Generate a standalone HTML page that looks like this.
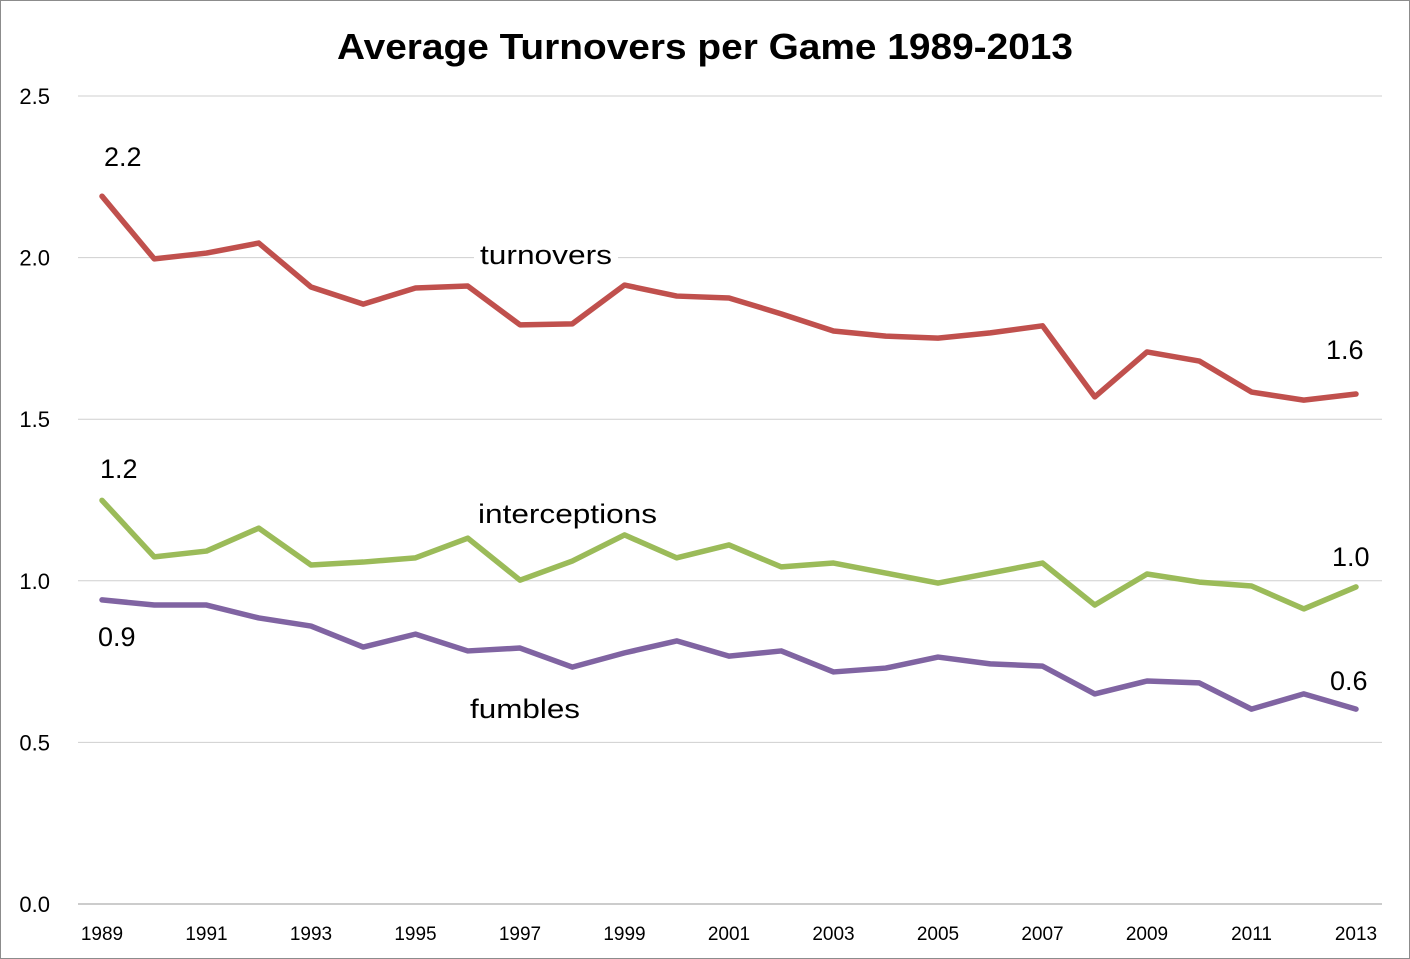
<!DOCTYPE html>
<html><head><meta charset="utf-8"><style>
html,body{margin:0;padding:0;background:#fff}
svg{display:block;font-family:"Liberation Sans","DejaVu Sans",sans-serif}
</style></head><body>
<svg id="chart" width="1410" height="959"></svg>
<script>
const years=[1989,1990,1991,1992,1993,1994,1995,1996,1997,1998,1999,2000,2001,2002,2003,2004,2005,2006,2007,2008,2009,2010,2011,2012,2013];
const turnovers=[2.19,1.996,2.014,2.045,1.909,1.856,1.906,1.912,1.792,1.795,1.915,1.881,1.875,1.826,1.773,1.757,1.751,1.767,1.789,1.569,1.708,1.680,1.584,1.559,1.578];
const interceptions=[1.249,1.074,1.092,1.163,1.049,1.058,1.071,1.132,1.002,1.061,1.142,1.071,1.111,1.043,1.055,1.024,0.993,1.024,1.055,0.925,1.021,0.996,0.984,0.913,0.981];
const fumbles=[0.941,0.925,0.925,0.885,0.860,0.795,0.835,0.783,0.792,0.733,0.777,0.814,0.767,0.783,0.718,0.730,0.764,0.743,0.736,0.650,0.690,0.684,0.603,0.650,0.603];
const yTicks=[0,0.5,1.0,1.5,2.0,2.5];
const xTickYears=[1989,1991,1993,1995,1997,1999,2001,2003,2005,2007,2009,2011,2013];

const NS="http://www.w3.org/2000/svg";
const svg=document.getElementById('chart');
const X=y=>102+(y-1989)*(1356-102)/24;
const Y=v=>904-v*(904-96)/2.5;
function mk(tag,attrs,parent){const e=document.createElementNS(NS,tag);for(const k in attrs)e.setAttribute(k,attrs[k]);(parent||svg).appendChild(e);return e;}

const border=mk('rect',{x:0.5,y:0.5,width:1409,height:958,fill:'#fff',stroke:'#8c8c8c'});



const title=mk('text',{x:337,y:59,'font-size':36,'font-weight':'bold',fill:'#000',textLength:736,lengthAdjust:'spacingAndGlyphs'});
title.textContent='Average Turnovers per Game 1989-2013';



yTicks.forEach(t=>{
  const g=mk('line',{x1:78,x2:1382,y1:Y(t),y2:Y(t),stroke:t===0?'#999':'#cfcfcf','stroke-width':1});
  
  
  const l=mk('text',{x:50,y:Y(t)+8,'text-anchor':'end','font-size':22,fill:'#000'});
  l.textContent=t.toFixed(1);
  
  
});
xTickYears.forEach(yr=>{
  const l=mk('text',{x:X(yr),y:940,'text-anchor':'middle','font-size':19,fill:'#000'});
  l.textContent=yr;
  
  
});

function series(vals,color,name){
  const p=mk('polyline',{points:vals.map((v,i)=>X(years[i])+','+Y(v)).join(' '),fill:'none',stroke:color,'stroke-width':5.5,'stroke-linejoin':'round','stroke-linecap':'round'});
  
  
}
function label(txt,x,y,name,len,bg){
  if(bg){const r=mk('rect',{x:x-6,y:y-24,width:len+12,height:30,fill:'#fff'});
    
    }
  const a={x:x,y:y,'font-size':27,fill:'#000'};
  if(len){a.textLength=len;a.lengthAdjust='spacingAndGlyphs';}
  const t=mk('text',a);
  t.textContent=txt;
  
  
}
series(turnovers,'#c0504d','turnovers');
series(interceptions,'#9bbb59','interceptions');
series(fumbles,'#8064a2','fumbles');

label('turnovers',480,264,'turnovers-label',132,true);
label('interceptions',478,523,'interceptions-label',179);
label('fumbles',470,718,'fumbles-label',110);
label(turnovers[0].toFixed(1),104,166,'turnovers-start-value');
label(turnovers[24].toFixed(1),1326,359,'turnovers-end-value');
label(interceptions[0].toFixed(1),100,478,'interceptions-start-value');
label(interceptions[24].toFixed(1),1332,566,'interceptions-end-value');
label(fumbles[0].toFixed(1),98,646,'fumbles-start-value');
label(fumbles[24].toFixed(1),1330,690,'fumbles-end-value');
</script>
</body></html>
